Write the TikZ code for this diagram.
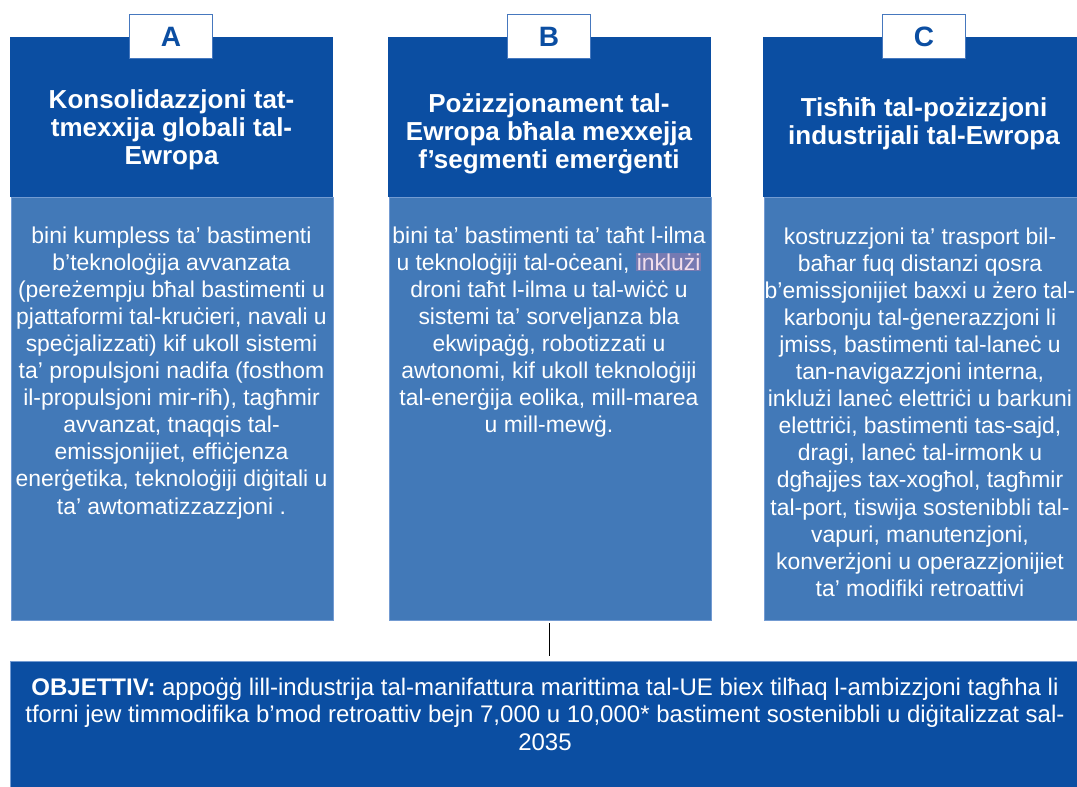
\documentclass[tikz,border=0pt]{standalone}
\usepackage{fontspec}
\setmainfont{Liberation Sans}
\definecolor{hdr}{RGB}{11,78,162}
\definecolor{bodyc}{RGB}{66,121,184}
\definecolor{edgec}{RGB}{115,155,210}
\definecolor{lbledge}{RGB}{70,120,190}
\definecolor{hl}{RGB}{118,122,178}
\definecolor{hltext}{RGB}{242,222,236}
\begin{document}
\begin{tikzpicture}[x=1pt,y=-1pt,
  hdrbox/.style={fill=hdr, draw=none, inner sep=0, minimum width=323pt, minimum height=160pt, anchor=north west},
  bodybox/.style={fill=bodyc, draw=edgec, line width=0.8pt, inner sep=0, minimum width=322pt, minimum height=423pt, anchor=north west},
  lblbox/.style={fill=white, draw=lbledge, line width=0.8pt, inner sep=0, minimum width=83pt, minimum height=44pt, anchor=north west, text=hdr, font=\fontsize{28}{30}\selectfont\bfseries},
  hdrtext/.style={text=white, align=center, inner sep=0, anchor=base, font=\fontsize{26}{28.3}\selectfont\bfseries},
  bodytext/.style={text=white, align=center, inner sep=0, anchor=base, font=\fontsize{22.9}{27.1}\selectfont},
  goalbox/.style={fill=hdr, draw=edgec, line width=0.8pt, inner sep=0, minimum width=1080pt, minimum height=140pt, anchor=north west},
  goaltext/.style={text=white, align=center, inner sep=0, anchor=base, font=\fontsize{24}{27.5}\selectfont},
  link/.style={draw=black, line width=1pt}
]
\useasboundingbox (0,0) rectangle (1077,787);
\clip (0,0) rectangle (1077,787);
\fill[white] (0,0) rectangle (1077,787);

% column A
\node[hdrbox] (hA) at (10,37) {};
\node[bodybox] (bA) at (10.5,197) {};
\node[lblbox] (lA) at (129,14) {A};
\node[hdrtext] (tA) at (171.5,164.6) {Konsolidazzjoni tat-\\tmexxija globali tal-\\Ewropa};
\node[bodytext] (xA) at (171.5,514) {bini kumpless ta’ bastimenti\\b’teknoloġija avvanzata\\(pereżempju bħal bastimenti u\\pjattaformi tal-kruċieri, navali u\\speċjalizzati) kif ukoll sistemi\\ta’ propulsjoni nadifa (fosthom\\il-propulsjoni mir-riħ), tagħmir\\avvanzat, tnaqqis tal-\\emissjonijiet, effiċjenza\\enerġetika, teknoloġiji diġitali u\\ta’ awtomatizzazzjoni .};

% column B
\node[hdrbox] (hB) at (388,37) {};
\node[bodybox] (bB) at (388.5,197) {};
\node[lblbox] (lB) at (507,14) {B};
\node[hdrtext] (tB) at (549,168.6) {Pożizzjonament tal-\\Ewropa bħala mexxejja\\f’segmenti emerġenti};
\node[bodytext] (xB) at (549,432.7) {bini ta’ bastimenti ta’ taħt l-ilma\\u teknoloġiji tal-oċeani, {\setlength{\fboxsep}{1pt}\colorbox{hl}{\textcolor{hltext}{inklużi}}}\\droni taħt l-ilma u tal-wiċċ u\\sistemi ta’ sorveljanza bla\\ekwipaġġ, robotizzati u\\awtonomi, kif ukoll teknoloġiji\\tal-enerġija eolika, mill-marea\\u mill-mewġ.};

% column C
\node[hdrbox] (hC) at (763,37) {};
\node[bodybox] (bC) at (763.5,197) {};
\node[lblbox] (lC) at (882,14) {C};
\node[hdrtext] (tC) at (924,144.8) {Tisħiħ tal-pożizzjoni\\industrijali tal-Ewropa};
\node[bodytext] (xC) at (920,596.3) {kostruzzjoni ta’ trasport bil-\\baħar fuq distanzi qosra\\b’emissjonijiet baxxi u żero tal-\\karbonju tal-ġenerazzjoni li\\jmiss, bastimenti tal-laneċ u\\tan-navigazzjoni interna,\\inklużi laneċ elettriċi u barkuni\\elettriċi, bastimenti tas-sajd,\\dragi, laneċ tal-irmonk u\\dgħajjes tax-xogħol, tagħmir\\tal-port, tiswija sostenibbli tal-\\vapuri, manutenzjoni,\\konverżjoni u operazzjonijiet\\ta’ modifiki retroattivi};

% goal
\node[goalbox] (goal) at (10,661) {};
\node[goaltext] (gt) at (545,750) {\textbf{OBJETTIV:} appoġġ lill-industrija tal-manifattura marittima tal-UE biex tilħaq l-ambizzjoni tagħha li\\tforni jew timmodifika b’mod retroattiv bejn 7,000 u 10,000* bastiment sostenibbli u diġitalizzat sal-\\2035};

\draw[link] ([yshift=-2.5pt]bB.south) -- ([yshift=5pt]goal.north -| bB.south);
\end{tikzpicture}
\end{document}
